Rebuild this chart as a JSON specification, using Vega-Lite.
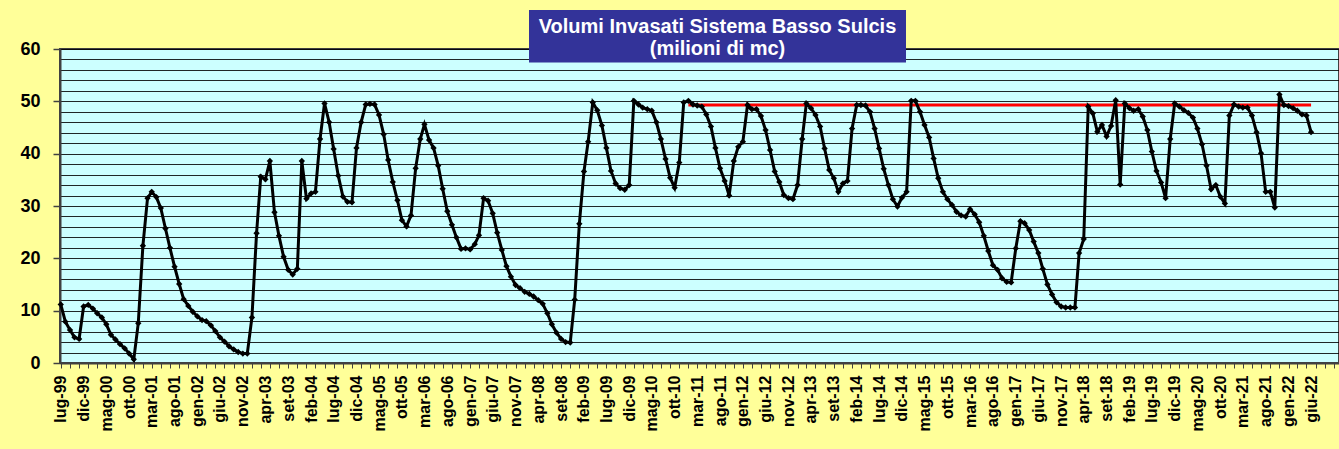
{
"$schema": "https://vega.github.io/schema/vega-lite/v6.json",
"width": 1279, "height": 314,
"autosize": {"type": "none"},
"padding": {"left": 60, "top": 49, "right": 0, "bottom": 86},
"background": "#FFFF99",
"config": {"view": {"fill": "#CCFFFF", "stroke": "#404040", "strokeWidth": 2}, "font": "Liberation Sans"},
"resolve": {"axis": {"x": "independent", "y": "independent"}},
"datasets": {
"vol": [
{"mese":"1999-07-01","volume":11.2},{"mese":"1999-08-01","volume":7.9},{"mese":"1999-09-01","volume":6.3},{"mese":"1999-10-01","volume":4.9},{"mese":"1999-11-01","volume":4.6},{"mese":"1999-12-01","volume":10.8},
{"mese":"2000-01-01","volume":11.1},{"mese":"2000-02-01","volume":10.4},{"mese":"2000-03-01","volume":9.5},{"mese":"2000-04-01","volume":8.7},{"mese":"2000-05-01","volume":7.4},{"mese":"2000-06-01","volume":5.4},{"mese":"2000-07-01","volume":4.5},{"mese":"2000-08-01","volume":3.6},{"mese":"2000-09-01","volume":2.8},{"mese":"2000-10-01","volume":1.8},{"mese":"2000-11-01","volume":0.7},{"mese":"2000-12-01","volume":7.6},
{"mese":"2001-01-01","volume":22.4},{"mese":"2001-02-01","volume":31.5},{"mese":"2001-03-01","volume":32.7},{"mese":"2001-04-01","volume":31.7},{"mese":"2001-05-01","volume":29.6},{"mese":"2001-06-01","volume":25.7},{"mese":"2001-07-01","volume":22.0},{"mese":"2001-08-01","volume":18.4},{"mese":"2001-09-01","volume":15.1},{"mese":"2001-10-01","volume":12.2},{"mese":"2001-11-01","volume":10.9},{"mese":"2001-12-01","volume":9.8},
{"mese":"2002-01-01","volume":8.9},{"mese":"2002-02-01","volume":8.2},{"mese":"2002-03-01","volume":8.0},{"mese":"2002-04-01","volume":7.2},{"mese":"2002-05-01","volume":6.1},{"mese":"2002-06-01","volume":4.9},{"mese":"2002-07-01","volume":4.1},{"mese":"2002-08-01","volume":3.2},{"mese":"2002-09-01","volume":2.6},{"mese":"2002-10-01","volume":2.1},{"mese":"2002-11-01","volume":1.8},{"mese":"2002-12-01","volume":1.8},
{"mese":"2003-01-01","volume":8.7},{"mese":"2003-02-01","volume":24.8},{"mese":"2003-03-01","volume":35.6},{"mese":"2003-04-01","volume":35.1},{"mese":"2003-05-01","volume":38.6},{"mese":"2003-06-01","volume":28.8},{"mese":"2003-07-01","volume":24.3},{"mese":"2003-08-01","volume":20.3},{"mese":"2003-09-01","volume":17.8},{"mese":"2003-10-01","volume":16.9},{"mese":"2003-11-01","volume":18.0},{"mese":"2003-12-01","volume":38.6},
{"mese":"2004-01-01","volume":31.4},{"mese":"2004-02-01","volume":32.4},{"mese":"2004-03-01","volume":32.7},{"mese":"2004-04-01","volume":42.8},{"mese":"2004-05-01","volume":49.6},{"mese":"2004-06-01","volume":46.0},{"mese":"2004-07-01","volume":40.9},{"mese":"2004-08-01","volume":35.8},{"mese":"2004-09-01","volume":31.8},{"mese":"2004-10-01","volume":30.8},{"mese":"2004-11-01","volume":30.7},{"mese":"2004-12-01","volume":41.1},
{"mese":"2005-01-01","volume":46.0},{"mese":"2005-02-01","volume":49.4},{"mese":"2005-03-01","volume":49.5},{"mese":"2005-04-01","volume":49.4},{"mese":"2005-05-01","volume":47.4},{"mese":"2005-06-01","volume":43.7},{"mese":"2005-07-01","volume":38.8},{"mese":"2005-08-01","volume":34.6},{"mese":"2005-09-01","volume":31.1},{"mese":"2005-10-01","volume":27.3},{"mese":"2005-11-01","volume":26.1},{"mese":"2005-12-01","volume":28.2},
{"mese":"2006-01-01","volume":37.2},{"mese":"2006-02-01","volume":42.8},{"mese":"2006-03-01","volume":45.6},{"mese":"2006-04-01","volume":42.6},{"mese":"2006-05-01","volume":41.1},{"mese":"2006-06-01","volume":37.7},{"mese":"2006-07-01","volume":33.3},{"mese":"2006-08-01","volume":29.0},{"mese":"2006-09-01","volume":26.4},{"mese":"2006-10-01","volume":24.0},{"mese":"2006-11-01","volume":21.8},{"mese":"2006-12-01","volume":21.9},
{"mese":"2007-01-01","volume":21.7},{"mese":"2007-02-01","volume":22.7},{"mese":"2007-03-01","volume":24.4},{"mese":"2007-04-01","volume":31.5},{"mese":"2007-05-01","volume":31.0},{"mese":"2007-06-01","volume":28.6},{"mese":"2007-07-01","volume":24.9},{"mese":"2007-08-01","volume":21.6},{"mese":"2007-09-01","volume":18.5},{"mese":"2007-10-01","volume":16.5},{"mese":"2007-11-01","volume":14.9},{"mese":"2007-12-01","volume":14.3},
{"mese":"2008-01-01","volume":13.6},{"mese":"2008-02-01","volume":13.2},{"mese":"2008-03-01","volume":12.7},{"mese":"2008-04-01","volume":12.0},{"mese":"2008-05-01","volume":11.3},{"mese":"2008-06-01","volume":9.5},{"mese":"2008-07-01","volume":7.4},{"mese":"2008-08-01","volume":5.8},{"mese":"2008-09-01","volume":4.6},{"mese":"2008-10-01","volume":4.0},{"mese":"2008-11-01","volume":3.9},{"mese":"2008-12-01","volume":12.1},
{"mese":"2009-01-01","volume":26.6},{"mese":"2009-02-01","volume":36.6},{"mese":"2009-03-01","volume":42.3},{"mese":"2009-04-01","volume":49.8},{"mese":"2009-05-01","volume":48.3},{"mese":"2009-06-01","volume":45.4},{"mese":"2009-07-01","volume":41.1},{"mese":"2009-08-01","volume":36.7},{"mese":"2009-09-01","volume":34.3},{"mese":"2009-10-01","volume":33.4},{"mese":"2009-11-01","volume":33.1},{"mese":"2009-12-01","volume":34.0},
{"mese":"2010-01-01","volume":50.1},{"mese":"2010-02-01","volume":49.4},{"mese":"2010-03-01","volume":48.8},{"mese":"2010-04-01","volume":48.5},{"mese":"2010-05-01","volume":48.2},{"mese":"2010-06-01","volume":46.0},{"mese":"2010-07-01","volume":42.8},{"mese":"2010-08-01","volume":39.0},{"mese":"2010-09-01","volume":35.4},{"mese":"2010-10-01","volume":33.5},{"mese":"2010-11-01","volume":38.3},{"mese":"2010-12-01","volume":49.8},
{"mese":"2011-01-01","volume":50.1},{"mese":"2011-02-01","volume":49.4},{"mese":"2011-03-01","volume":49.2},{"mese":"2011-04-01","volume":49.0},{"mese":"2011-05-01","volume":47.5},{"mese":"2011-06-01","volume":45.2},{"mese":"2011-07-01","volume":41.1},{"mese":"2011-08-01","volume":37.2},{"mese":"2011-09-01","volume":34.8},{"mese":"2011-10-01","volume":32.0},{"mese":"2011-11-01","volume":38.6},{"mese":"2011-12-01","volume":41.3},
{"mese":"2012-01-01","volume":42.3},{"mese":"2012-02-01","volume":49.3},{"mese":"2012-03-01","volume":48.5},{"mese":"2012-04-01","volume":48.5},{"mese":"2012-05-01","volume":47.2},{"mese":"2012-06-01","volume":44.5},{"mese":"2012-07-01","volume":40.7},{"mese":"2012-08-01","volume":36.6},{"mese":"2012-09-01","volume":34.6},{"mese":"2012-10-01","volume":32.1},{"mese":"2012-11-01","volume":31.5},{"mese":"2012-12-01","volume":31.3},
{"mese":"2013-01-01","volume":34.0},{"mese":"2013-02-01","volume":42.8},{"mese":"2013-03-01","volume":49.6},{"mese":"2013-04-01","volume":48.7},{"mese":"2013-05-01","volume":47.4},{"mese":"2013-06-01","volume":45.2},{"mese":"2013-07-01","volume":41.0},{"mese":"2013-08-01","volume":36.9},{"mese":"2013-09-01","volume":35.3},{"mese":"2013-10-01","volume":32.7},{"mese":"2013-11-01","volume":34.3},{"mese":"2013-12-01","volume":34.8},
{"mese":"2014-01-01","volume":44.8},{"mese":"2014-02-01","volume":49.3},{"mese":"2014-03-01","volume":49.3},{"mese":"2014-04-01","volume":49.2},{"mese":"2014-05-01","volume":48.0},{"mese":"2014-06-01","volume":44.8},{"mese":"2014-07-01","volume":41.0},{"mese":"2014-08-01","volume":37.1},{"mese":"2014-09-01","volume":34.0},{"mese":"2014-10-01","volume":31.3},{"mese":"2014-11-01","volume":29.9},{"mese":"2014-12-01","volume":31.6},
{"mese":"2015-01-01","volume":32.7},{"mese":"2015-02-01","volume":50.1},{"mese":"2015-03-01","volume":50.1},{"mese":"2015-04-01","volume":48.0},{"mese":"2015-05-01","volume":45.5},{"mese":"2015-06-01","volume":43.1},{"mese":"2015-07-01","volume":39.1},{"mese":"2015-08-01","volume":35.3},{"mese":"2015-09-01","volume":32.7},{"mese":"2015-10-01","volume":31.3},{"mese":"2015-11-01","volume":30.2},{"mese":"2015-12-01","volume":28.9},
{"mese":"2016-01-01","volume":28.2},{"mese":"2016-02-01","volume":28.0},{"mese":"2016-03-01","volume":29.4},{"mese":"2016-04-01","volume":28.4},{"mese":"2016-05-01","volume":26.9},{"mese":"2016-06-01","volume":24.3},{"mese":"2016-07-01","volume":21.4},{"mese":"2016-08-01","volume":18.7},{"mese":"2016-09-01","volume":17.8},{"mese":"2016-10-01","volume":16.2},{"mese":"2016-11-01","volume":15.5},{"mese":"2016-12-01","volume":15.4},
{"mese":"2017-01-01","volume":21.9},{"mese":"2017-02-01","volume":27.1},{"mese":"2017-03-01","volume":26.7},{"mese":"2017-04-01","volume":25.4},{"mese":"2017-05-01","volume":23.2},{"mese":"2017-06-01","volume":21.0},{"mese":"2017-07-01","volume":18.0},{"mese":"2017-08-01","volume":15.0},{"mese":"2017-09-01","volume":13.1},{"mese":"2017-10-01","volume":11.6},{"mese":"2017-11-01","volume":10.8},{"mese":"2017-12-01","volume":10.6},
{"mese":"2018-01-01","volume":10.6},{"mese":"2018-02-01","volume":10.6},{"mese":"2018-03-01","volume":21.0},{"mese":"2018-04-01","volume":23.7},{"mese":"2018-05-01","volume":49.0},{"mese":"2018-06-01","volume":47.7},{"mese":"2018-07-01","volume":44.2},{"mese":"2018-08-01","volume":45.5},{"mese":"2018-09-01","volume":43.3},{"mese":"2018-10-01","volume":45.3},{"mese":"2018-11-01","volume":50.2},{"mese":"2018-12-01","volume":34.1},
{"mese":"2019-01-01","volume":49.6},{"mese":"2019-02-01","volume":48.7},{"mese":"2019-03-01","volume":48.2},{"mese":"2019-04-01","volume":48.5},{"mese":"2019-05-01","volume":47.1},{"mese":"2019-06-01","volume":44.5},{"mese":"2019-07-01","volume":40.4},{"mese":"2019-08-01","volume":36.7},{"mese":"2019-09-01","volume":34.5},{"mese":"2019-10-01","volume":31.5},{"mese":"2019-11-01","volume":42.8},{"mese":"2019-12-01","volume":49.6},
{"mese":"2020-01-01","volume":49.0},{"mese":"2020-02-01","volume":48.3},{"mese":"2020-03-01","volume":47.8},{"mese":"2020-04-01","volume":46.9},{"mese":"2020-05-01","volume":44.8},{"mese":"2020-06-01","volume":41.8},{"mese":"2020-07-01","volume":37.7},{"mese":"2020-08-01","volume":33.2},{"mese":"2020-09-01","volume":34.0},{"mese":"2020-10-01","volume":31.8},{"mese":"2020-11-01","volume":30.5},{"mese":"2020-12-01","volume":47.3},
{"mese":"2021-01-01","volume":49.4},{"mese":"2021-02-01","volume":49.0},{"mese":"2021-03-01","volume":48.8},{"mese":"2021-04-01","volume":48.8},{"mese":"2021-05-01","volume":47.3},{"mese":"2021-06-01","volume":44.1},{"mese":"2021-07-01","volume":40.1},{"mese":"2021-08-01","volume":32.7},{"mese":"2021-09-01","volume":32.7},{"mese":"2021-10-01","volume":29.7},{"mese":"2021-11-01","volume":51.3},{"mese":"2021-12-01","volume":49.3},
{"mese":"2022-01-01","volume":49.1},{"mese":"2022-02-01","volume":48.7},{"mese":"2022-03-01","volume":48.2},{"mese":"2022-04-01","volume":47.5},{"mese":"2022-05-01","volume":47.3},{"mese":"2022-06-01","volume":44.1}
],
"soglia": [{"mese": "2011-01-01", "fine": "2022-06-01", "volume": 49.3}],
"titolo": [{"riga1": "Volumi Invasati Sistema Basso Sulcis", "riga2": "(milioni  di mc)"}]
},
"layer": [
{
"encoding": {
"x": {"field": "mese", "type": "temporal",
"scale": {"type": "utc", "domain": [{"year": 1999, "month": 6, "date": 26, "utc": true}, {"year": 2022, "month": 12, "date": 5, "utc": true}], "nice": false},
"axis": {"title": null, "grid": false, "tickCount": {"interval": "month", "step": 1},
"labelExpr": "((utcyear(datum.value)*12+utcmonth(datum.value)-23994) % 5 === 0 && (utcyear(datum.value)*12+utcmonth(datum.value)-23994) <= 275) ? ['gen','feb','mar','apr','mag','giu','lug','ago','set','ott','nov','dic'][utcmonth(datum.value)] + '-' + utcFormat(datum.value, '%y') : ''",
"labelAngle": 270, "labelOverlap": false, "labelFlush": false, "labelBound": false,
"labelFontSize": 16, "labelFontWeight": "bold", "labelColor": "#000000", "labelPadding": 7, "labelFont": "Liberation Sans",
"tickSize": 5, "tickColor": "#404040", "tickWidth": 1,
"tickOpacity": {"condition": {"test": "(utcyear(datum.value)*12+utcmonth(datum.value)) % 2 === 0", "value": 1}, "value": 0},
"domainColor": "#404040", "domainWidth": 2, "orient": "bottom"}
},
"y": {"field": "volume", "type": "quantitative",
"scale": {"domain": [0, 60], "nice": false},
"axis": {"title": null, "values": [0,2,4,6,8,10,12,14,16,18,20,22,24,26,28,30,32,34,36,38,40,42,44,46,48,50,52,54,56,58,60],
"grid": true, "gridColor": "#000000", "gridWidth": 1, "gridOpacity": 0.85,
"labelExpr": "datum.value % 10 === 0 ? datum.label : ''", "labelOverlap": false,
"labelFontSize": 18, "labelFontWeight": "bold", "labelColor": "#000000", "labelPadding": 13, "labelFont": "Liberation Sans",
"tickSize": 7, "tickColor": "#404040", "tickWidth": 1.5,
"tickOpacity": {"condition": {"test": "datum.value % 10 === 0", "value": 1}, "value": 0},
"domainColor": "#404040", "domainWidth": 2, "orient": "left"}
}
},
"layer": [
{
"data": {"name": "soglia"},
"mark": {"type": "rule", "color": "#FF0000", "strokeWidth": 3},
"encoding": {"x2": {"field": "fine"}}
},
{
"data": {"name": "vol"},
"mark": {"type": "line", "color": "#000000", "strokeWidth": 3, "point": {"shape": "diamond", "size": 40, "filled": true, "color": "#000000"}}
}
]
},
{
"data": {"name": "titolo"},
"mark": {"type": "rect", "color": "#333399", "clip": false},
"encoding": {
"x": {"datum": {"year": 2008, "month": 1, "date": 30, "utc": true}, "type": "temporal", "axis": null},
"x2": {"datum": {"year": 2014, "month": 12, "date": 28, "utc": true}},
"y": {"datum": 67.45, "type": "quantitative", "axis": null},
"y2": {"datum": 57.4}
}
},
{
"data": {"name": "titolo"},
"mark": {"type": "text", "color": "#FFFFFF", "fontSize": 20, "fontWeight": "bold", "font": "Liberation Sans", "lineHeight": 22, "align": "center", "baseline": "middle", "clip": false},
"encoding": {
"text": {"value": ["Volumi Invasati Sistema Basso Sulcis", "(milioni  di mc)"]},
"x": {"datum": {"year": 2011, "month": 7, "date": 15, "utc": true}, "type": "temporal", "axis": null},
"y": {"datum": 64.2, "type": "quantitative", "axis": null}
}
}
]
}
